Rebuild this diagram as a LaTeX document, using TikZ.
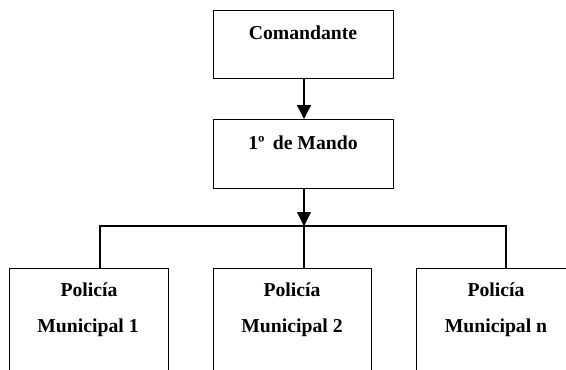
\documentclass[tikz,border=0pt]{standalone}
\usepackage{fontspec}
\setmainfont{Liberation Serif}
\usetikzlibrary{arrows.meta}
\tikzset{
  box/.style={draw, line width=1.4pt, rectangle, inner sep=0pt, anchor=north west},
  lbl/.style={inner sep=0pt, anchor=base, font=\fontsize{19.7}{24}\selectfont\bfseries},
  conn/.style={line width=1.3pt},
  arr/.style={conn, -{Triangle[width=14pt,length=14pt]}}
}
\begin{document}
\begin{tikzpicture}[x=1pt,y=-1pt]
\useasboundingbox (0,0) rectangle (566,370);
\begin{scope}
\clip (0,0) rectangle (566,370);
% top boxes
\node[box, minimum width=180pt, minimum height=68pt] (cmd) at (213,10) {};
\node[box, minimum width=180pt, minimum height=69pt] (mando) at (213,119) {};
\node[lbl] (cmdt) at (303,39) {Comandante};
\node[lbl] (mandot) at (303,149) {1º\, de Mando};
% bottom boxes (cut off by the page border)
\node[box, minimum width=159pt, minimum height=130pt] (p1) at (9,268) {};
\node[box, minimum width=158pt, minimum height=130pt] (p2) at (213,268) {};
\node[box, minimum width=159pt, minimum height=130pt] (pn) at (416,268) {};
\node[lbl] (p1a) at (89,296) {Policía};
\node[lbl] (p1b) at (88,332) {Municipal 1};
\node[lbl] (p2a) at (292,296) {Policía};
\node[lbl] (p2b) at (292,332) {Municipal 2};
\node[lbl] (pna) at (496,296) {Policía};
\node[lbl] (pnb) at (496,332) {Municipal n};
% connectors
\coordinate (busL) at (100,226);
\coordinate (busM) at (304,226);
\coordinate (busR) at (506,226);
\draw[arr] (304,78) -- (304,119);
\draw[arr] (mando.south -| busM) -- (busM);
\draw[conn] (p1.north -| busL) -- (busL) -- (busR) -- (pn.north -| busR);
\draw[conn] (busM) -- (p2.north -| busM);
\end{scope}
\end{tikzpicture}
\end{document}
